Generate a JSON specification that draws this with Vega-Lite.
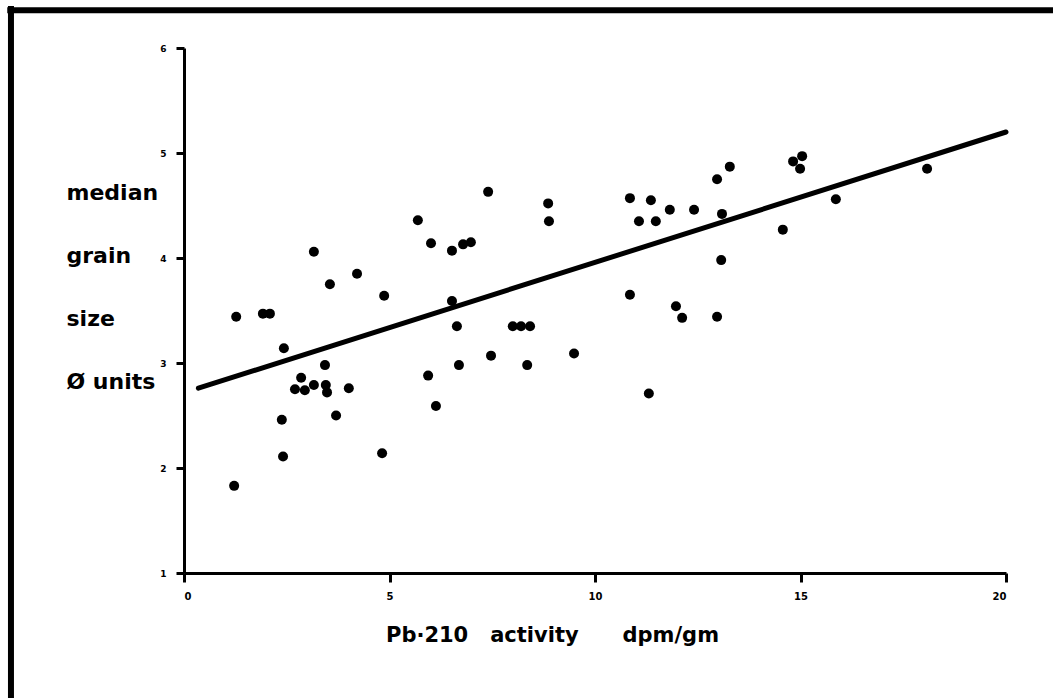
{
  "$schema": "https://vega.github.io/schema/vega-lite/v6.json",
  "autosize": "none",
  "width": 822,
  "height": 525,
  "padding": {"left": 184, "top": 48, "right": 47, "bottom": 125},
  "background": "white",
  "config": {"view": {"stroke": null}},
  "datasets": {
    "points": [
      {"x": 1.27, "y": 3.44}, {"x": 1.22, "y": 1.83}, {"x": 1.92, "y": 3.47}, {"x": 2.09, "y": 3.47},
      {"x": 2.43, "y": 3.14}, {"x": 2.38, "y": 2.46}, {"x": 2.41, "y": 2.11}, {"x": 2.85, "y": 2.86},
      {"x": 2.70, "y": 2.75}, {"x": 2.94, "y": 2.74}, {"x": 3.16, "y": 2.79}, {"x": 3.43, "y": 2.98},
      {"x": 3.45, "y": 2.79}, {"x": 3.48, "y": 2.72}, {"x": 4.01, "y": 2.76}, {"x": 3.70, "y": 2.50},
      {"x": 3.16, "y": 4.06}, {"x": 3.55, "y": 3.75}, {"x": 4.21, "y": 3.85}, {"x": 4.87, "y": 3.64},
      {"x": 4.82, "y": 2.14}, {"x": 5.69, "y": 4.36}, {"x": 6.01, "y": 4.14}, {"x": 6.52, "y": 4.07},
      {"x": 6.79, "y": 4.13}, {"x": 6.98, "y": 4.15}, {"x": 6.52, "y": 3.59}, {"x": 6.64, "y": 3.35},
      {"x": 6.69, "y": 2.98}, {"x": 5.94, "y": 2.88}, {"x": 6.13, "y": 2.59}, {"x": 7.40, "y": 4.63},
      {"x": 8.86, "y": 4.52}, {"x": 8.88, "y": 4.35}, {"x": 7.47, "y": 3.07}, {"x": 8.00, "y": 3.35},
      {"x": 8.20, "y": 3.35}, {"x": 8.42, "y": 3.35}, {"x": 8.35, "y": 2.98}, {"x": 9.49, "y": 3.09},
      {"x": 10.85, "y": 4.57}, {"x": 11.36, "y": 4.55}, {"x": 11.07, "y": 4.35}, {"x": 11.48, "y": 4.35},
      {"x": 11.82, "y": 4.46}, {"x": 12.41, "y": 4.46}, {"x": 10.85, "y": 3.65}, {"x": 11.97, "y": 3.54},
      {"x": 12.12, "y": 3.43}, {"x": 11.31, "y": 2.71}, {"x": 12.97, "y": 4.75}, {"x": 13.28, "y": 4.87},
      {"x": 13.09, "y": 4.42}, {"x": 13.07, "y": 3.98}, {"x": 12.97, "y": 3.44}, {"x": 14.57, "y": 4.27},
      {"x": 14.82, "y": 4.92}, {"x": 15.04, "y": 4.97}, {"x": 14.99, "y": 4.85}, {"x": 15.86, "y": 4.56},
      {"x": 18.08, "y": 4.85}
    ],
    "fit": [
      {"x": 0.35, "y": 2.76},
      {"x": 20, "y": 5.2}
    ]
  },
  "layer": [
    {
      "data": {"name": "points"},
      "mark": {"type": "circle", "size": 100, "color": "black", "opacity": 1},
      "encoding": {
        "x": {
          "field": "x", "type": "quantitative",
          "scale": {"domain": [0, 20], "nice": false, "zero": false},
          "axis": {
            "values": [0, 5, 10, 15, 20],
            "format": "d",
            "grid": false,
            "domainColor": "black", "domainWidth": 3,
            "tickColor": "black", "tickWidth": 3, "tickSize": 9,
            "labelFont": "DejaVu Sans", "labelFontSize": 10, "labelFontWeight": "bold", "labelColor": "black",
            "labelPadding": 9,
            "title": "Pb·210\u00a0\u00a0\u00a0activity\u00a0\u00a0\u00a0\u00a0\u00a0\u00a0dpm/gm",
            "titleFont": "DejaVu Sans", "titleFontSize": 21, "titleFontWeight": "bold", "titleColor": "black",
            "titleAlign": "center", "titleAnchor": null, "titleBaseline": "alphabetic",
            "titleX": 368, "titleY": 68
          }
        },
        "y": {
          "field": "y", "type": "quantitative",
          "scale": {"domain": [1, 6], "nice": false, "zero": false},
          "axis": {
            "values": [1, 2, 3, 4, 5, 6],
            "format": "d",
            "grid": false,
            "domainColor": "black", "domainWidth": 3,
            "tickColor": "black", "tickWidth": 3, "tickSize": 8,
            "labelFont": "DejaVu Sans", "labelFontSize": 9, "labelFontWeight": "bold", "labelColor": "black",
            "labelPadding": 10,
            "title": ["median", "grain", "size", "Ø units"],
            "titleFont": "DejaVu Sans", "titleFontSize": 22, "titleFontWeight": "bold", "titleColor": "black",
            "titleAngle": 0, "titleAlign": "left", "titleBaseline": "alphabetic",
            "titleLineHeight": 63,
            "titleX": -118, "titleY": 151
          }
        }
      }
    },
    {
      "data": {"name": "fit"},
      "mark": {"type": "line", "color": "black", "strokeWidth": 5, "strokeCap": "round"},
      "encoding": {
        "x": {"field": "x", "type": "quantitative"},
        "y": {"field": "y", "type": "quantitative"}
      }
    },
    {
      "data": {"values": [{}]},
      "mark": {"type": "rule", "color": "black", "strokeWidth": 6},
      "encoding": {
        "x": {"datum": -4.21, "type": "quantitative"},
        "y": {"datum": -0.3, "type": "quantitative"},
        "y2": {"datum": 6.4}
      }
    },
    {
      "data": {"values": [{}]},
      "mark": {"type": "rule", "color": "black", "strokeWidth": 6},
      "encoding": {
        "y": {"datum": 6.36, "type": "quantitative"},
        "x": {"datum": -4.3, "type": "quantitative"},
        "x2": {"datum": 21.6}
      }
    }
  ]
}
